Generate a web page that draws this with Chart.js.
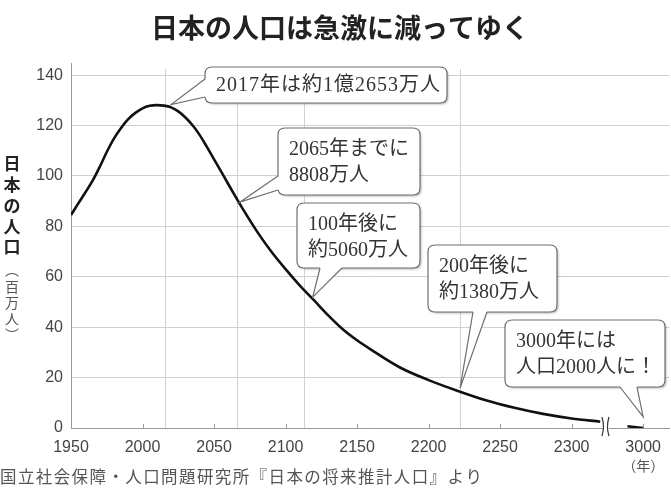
<!DOCTYPE html>
<html><head><meta charset="utf-8">
<script src="https://cdn.jsdelivr.net/npm/chart.js@4/dist/chart.umd.min.js"></script>
<style>html,body{margin:0;padding:0;background:#fff}canvas{display:block}</style>
</head><body>
<canvas id="c" width="671" height="497"></canvas>
<script>
// ---- data ----
const years = [1950,1955,1960,1965,1970,1975,1980,1985,1990,1995,2000,2005,2010,2015,2020,2025,2030,2035,2040,2045,2050,2055,2060,2065,2070,2080,2090,2100,2110,2120,2130,2140,2150,2160,2180,2200,2220,2240,2260,2280,2300,2320,2900,2950,3000];
const population = [84.5,89,93.4,98,103.5,109.5,114.8,119,122.5,125,126.8,127.8,128.1,127.9,127.2,125.6,123.2,120.1,116.2,111.5,106.6,101.7,96.7,91.8,87,78,70,63,56.5,50.6,44.6,39.2,34.8,31,24,19,14.8,11,8,5.6,3.8,2.5,1.3,0.7,0.002];
const xTickValues = [1950,2000,2050,2100,2150,2200,2250,2300,3000];
const xTickLabels = ['1950','2000','2050','2100','2150','2200','2250','2300','3000'];
const yTickValues = [0,20,40,60,80,100,120,140];
const guideYears = [2016,2066,2113,2222];
const calloutText = [
  ['2017年は約1億2653万人'],
  ['2065年までに','8808万人'],
  ['100年後に','約5060万人'],
  ['200年後に','約1380万人'],
  ['3000年には','人口2000人に！']
];
const calloutYear = [2020,2068,2119,2222,3000];
const calloutValue = [128.3,89.6,51.9,15.8,4.4];
const titleText = '日本の人口は急激に減ってゆく';
const yTitleChars = ['日','本','の','人','口'];
const yUnitChars = ['︵','百','万','人','︶'];
const xUnitText = '（年）';
const sourceText = '国立社会保障・人口問題研究所『日本の将来推計人口』より';

// ---- broken axis: years after the break are compressed to the last slot ----
const BREAK_AT = 2324;
function toAxis(yr){ return yr <= 2330 ? yr : 2350 - (3000 - yr) * 0.22; }

const points = [];
years.forEach((yr,i)=>{
  if (yr > 2330 && points.length && points[points.length-1].x <= 2330) points.push({x: BREAK_AT, y: null});
  points.push({x: toAxis(yr), y: population[i]});
});

// ---- layout / style of callouts (pixels) ----
const boxes = [
  {x:205,y:67,w:242,h:36,side:'left',b1:12,b2:30,ls:1},
  {x:278,y:128,w:142,h:67,side:'left',b1:48,b2:62,ls:0},
  {x:297,y:203,w:123,h:65,side:'bottom',b1:23,b2:45,ls:0},
  {x:428,y:245,w:129,h:67,side:'bottom',b1:45,b2:59,ls:0},
  {x:505,y:320,w:160,h:67,side:'bottom',b1:115,b2:132,ls:0}
];
const calloutFont = '20px "Liberation Serif","Noto Sans CJK JP",serif';

function roundRect(ctx,x,y,w,h,r){
  ctx.beginPath();
  ctx.moveTo(x+r,y); ctx.lineTo(x+w-r,y); ctx.quadraticCurveTo(x+w,y,x+w,y+r);
  ctx.lineTo(x+w,y+h-r); ctx.quadraticCurveTo(x+w,y+h,x+w-r,y+h);
  ctx.lineTo(x+r,y+h); ctx.quadraticCurveTo(x,y+h,x,y+h-r);
  ctx.lineTo(x,y+r); ctx.quadraticCurveTo(x,y,x+r,y); ctx.closePath();
}

const decor = {
  id:'decor',
  beforeDatasetsDraw(chart){
    const {ctx, chartArea:a, scales:{x}} = chart;
    ctx.save();
    ctx.strokeStyle = '#d2d2d2'; ctx.lineWidth = 1;
    guideYears.forEach(yr=>{
      const px = Math.round(x.getPixelForValue(toAxis(yr))) + 0.5;
      ctx.beginPath(); ctx.moveTo(px, a.top + 6); ctx.lineTo(px, a.bottom); ctx.stroke();
    });
    ctx.strokeStyle = '#999';
    xTickValues.forEach(v=>{
      const px = Math.round(x.getPixelForValue(toAxis(v))) + 0.5;
      ctx.beginPath(); ctx.moveTo(px, a.bottom); ctx.lineTo(px, a.bottom - 4); ctx.stroke();
    });
    ctx.restore();
  },
  afterDraw(chart){
    const {ctx, chartArea:a, scales:{x,y}} = chart;
    ctx.save();
    // axis break
    const bx = x.getPixelForValue(BREAK_AT);
    const by = a.bottom;
    ctx.fillStyle = '#fff';
    ctx.fillRect(bx-3, by-10, 6, 18);
    ctx.strokeStyle = '#333'; ctx.lineWidth = 1.2;
    ctx.beginPath(); ctx.moveTo(bx-4, by-11); ctx.quadraticCurveTo(bx-1, by-1, bx-4, by+8); ctx.stroke();
    ctx.beginPath(); ctx.moveTo(bx+3, by-11); ctx.quadraticCurveTo(bx, by-1, bx+3, by+8); ctx.stroke();

    // callouts
    boxes.forEach((b,i)=>{
      const tx = x.getPixelForValue(toAxis(calloutYear[i]));
      const ty = y.getPixelForValue(calloutValue[i]);
      let p1, p2, q1, q2;
      if (b.side === 'left'){ p1=[b.x,b.y+b.b1]; p2=[b.x,b.y+b.b2]; q1=[b.x+2,p1[1]]; q2=[b.x+2,p2[1]]; }
      else { p1=[b.x+b.b1,b.y+b.h]; p2=[b.x+b.b2,b.y+b.h]; q1=[p1[0],b.y+b.h-2]; q2=[p2[0],b.y+b.h-2]; }
      ctx.save();
      ctx.shadowColor = 'rgba(0,0,0,0.25)'; ctx.shadowBlur = 2; ctx.shadowOffsetX = 1.5; ctx.shadowOffsetY = 1.5;
      roundRect(ctx,b.x,b.y,b.w,b.h,7);
      ctx.fillStyle = '#fff'; ctx.fill();
      ctx.restore();
      ctx.strokeStyle = '#6e6e6e'; ctx.lineWidth = 1.2;
      roundRect(ctx,b.x,b.y,b.w,b.h,7); ctx.stroke();
      ctx.beginPath(); ctx.moveTo(q1[0],q1[1]); ctx.lineTo(p1[0],p1[1]); ctx.lineTo(tx,ty); ctx.lineTo(p2[0],p2[1]); ctx.lineTo(q2[0],q2[1]); ctx.closePath();
      ctx.fillStyle = '#fff'; ctx.fill();
      ctx.beginPath(); ctx.moveTo(p1[0],p1[1]); ctx.lineTo(tx,ty); ctx.lineTo(p2[0],p2[1]); ctx.stroke();
      ctx.fillStyle = '#333'; ctx.font = calloutFont; ctx.textAlign = 'left'; ctx.textBaseline = 'middle';
      ctx.letterSpacing = b.ls + 'px';
      const lines = calloutText[i];
      lines.forEach((t,k)=>{
        const ly = lines.length === 1 ? b.y + b.h/2 + 1 : b.y + 22 + k*26;
        ctx.fillText(t, b.x + 11, ly);
      });
      ctx.letterSpacing = '0px';
    });

    // title
    ctx.fillStyle = '#222'; ctx.textAlign = 'center'; ctx.textBaseline = 'middle';
    ctx.font = 'bold 27px "Noto Sans CJK JP",sans-serif';
    ctx.fillText(titleText, 340, 28);
    // vertical y title
    ctx.font = 'bold 17px "Noto Sans CJK JP",sans-serif'; ctx.fillStyle = '#222';
    yTitleChars.forEach((c,k)=> ctx.fillText(c, 12, 164 + k*20.7));
    ctx.font = '14px "Noto Sans CJK JP",sans-serif'; ctx.fillStyle = '#555';
    yUnitChars.forEach((c,k)=> ctx.fillText(c, 12, 270 + k*16.2));
    // x unit
    ctx.fillText(xUnitText, x.getPixelForValue(toAxis(3000)), 466);
    // source
    ctx.textAlign = 'left'; ctx.font = '16.5px "Liberation Serif","Noto Sans CJK JP",serif'; ctx.fillStyle = '#555';
    ctx.letterSpacing = '1.4px';
    ctx.fillText(sourceText, 0, 479);
    ctx.letterSpacing = '0px';
    ctx.restore();
  }
};

new Chart(document.getElementById('c'), {
  type:'line',
  data:{ datasets:[{ data: points, borderColor:'#111', borderWidth:2.6, pointRadius:0, cubicInterpolationMode:'monotone', spanGaps:false, fill:false }]},
  options:{
    responsive:false, devicePixelRatio:1, animation:false,
    layout:{ padding:{ top:63, right:1, left:0, bottom:0 } },
    plugins:{ legend:{display:false}, tooltip:{enabled:false}, title:{display:false} },
    scales:{
      x:{
        type:'linear', min:1950, max:2368.2,
        afterBuildTicks(s){ s.ticks = xTickValues.map(v=>({value: toAxis(v)})); },
        afterFit(s){ s.height = 69; },
        ticks:{ autoSkip:false, maxRotation:0, padding:10, color:'#444', font:{family:'"Liberation Sans",Arial,sans-serif', size:16},
          callback(v){ const i = xTickValues.findIndex(t=>toAxis(t)===v); return i>=0 ? xTickLabels[i] : ''; } },
        grid:{ display:true, drawOnChartArea:false, drawTicks:false },
        border:{ display:true, color:'#999', width:1 }
      },
      y:{
        min:0, max:144.8,
        afterBuildTicks(s){ s.ticks = yTickValues.map(v=>({value:v})); },
        afterFit(s){ s.width = 71; },
        ticks:{ padding:8, color:'#444', font:{family:'"Liberation Sans",Arial,sans-serif', size:16} },
        grid:{ drawTicks:false, color(c){ return c.tick && c.tick.value === 0 ? 'rgba(0,0,0,0)' : '#cfcfcf'; }, lineWidth:1 },
        border:{ display:true, color:'#999', width:1 }
      }
    }
  },
  plugins:[decor]
});
</script>
</body></html>
